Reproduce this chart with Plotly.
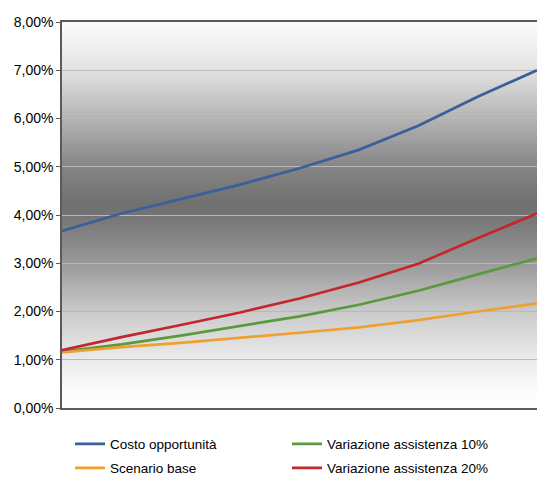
import plotly.graph_objects as go

# Periods along the horizontal axis (no labels shown)
periods = [0, 1, 2, 3, 4, 5, 6, 7, 8]

# Rates, as fractions
costo_opportunita = [0.0367, 0.0403, 0.0433, 0.0463, 0.0497, 0.0535, 0.0585, 0.0645, 0.0700]
variazione_10 = [0.0117, 0.0132, 0.0150, 0.0170, 0.0190, 0.0214, 0.0243, 0.0277, 0.0310]
scenario_base = [0.0115, 0.0126, 0.0135, 0.0145, 0.0156, 0.0167, 0.0182, 0.0200, 0.0217]
variazione_20 = [0.0120, 0.0147, 0.0172, 0.0198, 0.0227, 0.0260, 0.0299, 0.0352, 0.0403]

y_ticks = [0, 0.01, 0.02, 0.03, 0.04, 0.05, 0.06, 0.07, 0.08]

# Background shade stops: (fraction of the plot height from bottom, grey level)
shade_stops = [
    (0.00, 255), (0.05, 250), (0.125, 235), (0.25, 202), (0.375, 153),
    (0.50, 116), (0.53, 112), (0.625, 133), (0.75, 180), (0.875, 226), (1.00, 252),
]

FONT = "Liberation Sans, Arial, sans-serif"


def grey_at(f):
    for (f0, g0), (f1, g1) in zip(shade_stops[:-1], shade_stops[1:]):
        if f0 <= f <= f1:
            t = (f - f0) / (f1 - f0) if f1 > f0 else 0
            return round(g0 + (g1 - g0) * t)
    return shade_stops[-1][1]


shapes = []
n_strips = 120
for i in range(n_strips):
    f0 = i / n_strips
    f1 = (i + 1) / n_strips
    g = grey_at((f0 + f1) / 2)
    shapes.append(dict(
        type="rect", xref="paper", yref="paper", x0=0, x1=1, y0=f0, y1=f1 + 0.002,
        fillcolor=f"rgb({g},{g},{g})", line=dict(width=0), layer="below",
    ))

series = [
    ("Costo opportunità", costo_opportunita, "#3b5f9c", "legend"),
    ("Variazione assistenza 10%", variazione_10, "#5a9a3c", "legend2"),
    ("Scenario base", scenario_base, "#f0a030", "legend3"),
    ("Variazione assistenza 20%", variazione_20, "#c4262e", "legend4"),
]

fig = go.Figure()
for name, vals, color, leg in series:
    fig.add_trace(go.Scatter(
        x=periods, y=vals, name=name, mode="lines",
        line=dict(color=color, width=2.7), legend=leg,
    ))

W, H = 537, 477
ml, mr, mt, mb = 62, 0, 22, 69
ph = H - mt - mb
pw = W - ml - mr


def leg_pos(px, py):
    return dict(
        x=(px - ml) / pw, y=(H - mb - py) / ph, xanchor="left", yanchor="middle",
        bgcolor="rgba(0,0,0,0)", font=dict(family=FONT, size=13.5, color="#000"),
        itemwidth=30,
    )


fig.update_layout(
    width=W, height=H,
    margin=dict(l=ml, r=mr, t=mt, b=mb, autoexpand=False),
    paper_bgcolor="white", plot_bgcolor="white",
    separators=",.",
    showlegend=True,
    shapes=shapes,
    legend=leg_pos(70, 444),
    legend2=leg_pos(287, 444),
    legend3=leg_pos(70, 468),
    legend4=leg_pos(287, 468),
    xaxis=dict(
        range=[0, 8], showgrid=False, showticklabels=False, ticks="",
        showline=True, linecolor="#5a5a5a", linewidth=1.5, mirror=True, zeroline=False,
    ),
    yaxis=dict(
        range=[0, 0.08], tickvals=y_ticks, tickformat=".2%",
        showgrid=True, gridcolor="#b9b9b9", gridwidth=1,
        showline=True, linecolor="#5a5a5a", linewidth=1.5,
        ticks="outside", ticklen=4, tickcolor="#5a5a5a",
        tickfont=dict(family=FONT, size=14, color="#000"),
        zeroline=False,
    ),
)

fig.write_html("out.html")
